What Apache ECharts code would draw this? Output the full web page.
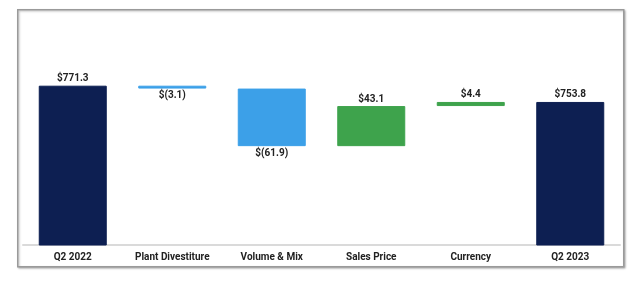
<!DOCTYPE html>
<html>
<head>
<meta charset="utf-8">
<script src="https://cdn.jsdelivr.net/npm/echarts@6/dist/echarts.min.js"></script>
<style>html,body{margin:0;padding:0;background:#fff;}#c{width:640px;height:281px;}</style>
</head>
<body>
<div id="c"></div>
<script>
// Data
var categories = ['Q2 2022', 'Plant Divestiture', 'Volume & Mix', 'Sales Price', 'Currency', 'Q2 2023'];
var changes = [771.3, -3.1, -61.9, 43.1, 4.4, 753.8];
var isTotal = [true, false, false, false, false, true];
var yTicks = [600, 800];

var NAVY = '#0d1f52', BLUE = '#3ca0e8', GREEN = '#3ea34c';

var baseData = [], barData = [];
var running = 0;
for (var i = 0; i < changes.length; i++) {
  var v = changes[i];
  if (isTotal[i]) {
    baseData.push(0);
    barData.push({value: v, itemStyle: {color: NAVY, borderColor: NAVY}, label: {position: 'top'}});
    running = v;
  } else {
    var lo = v < 0 ? running + v : running;
    var col = v < 0 ? BLUE : GREEN;
    baseData.push(lo);
    barData.push({value: Math.abs(v), itemStyle: {color: col, borderColor: col},
      label: {position: v < 0 ? 'bottom' : 'top'}});
    running += v;
  }
}
function fmt(v) {
  return v < 0 ? '$(' + Math.abs(v).toFixed(1) + ')' : '$' + v.toFixed(1);
}

var FONT = 'Roboto, "Noto Sans", sans-serif';
var chart = echarts.init(document.getElementById('c'));
chart.setOption({
  animation: false,
  backgroundColor: '#fff',
  graphic: [{
    type: 'rect', left: 17, top: 9, z: -10,
    shape: {width: 606, height: 257},
    style: {fill: '#fff', stroke: '#9a9a9a', lineWidth: 1.5,
      shadowColor: 'rgba(0,0,0,0.25)', shadowBlur: 2, shadowOffsetX: 1, shadowOffsetY: 1}
  }],
  grid: {left: 23, right: 20, top: 59, bottom: 36},
  xAxis: {
    type: 'category', data: categories,
    axisLine: {lineStyle: {color: '#dadada', width: 2}},
    axisTick: {show: false},
    axisLabel: {interval: 0, color: '#222', fontSize: 10, fontWeight: 'bold', fontFamily: FONT, margin: 7}
  },
  yAxis: {
    type: 'value', min: yTicks[0], max: yTicks[1], interval: 200,
    show: false, splitLine: {show: false}
  },
  series: [{
    type: 'bar', stack: 'w', data: baseData, barWidth: 68,
    itemStyle: {color: 'transparent'}, silent: true
  }, {
    type: 'bar', stack: 'w', data: barData, barWidth: 68,
    itemStyle: {borderWidth: 1},
    label: {
      show: true, color: '#222', fontSize: 10, fontWeight: 'bold', fontFamily: FONT, distance: 2,
      formatter: function (p) { return fmt(changes[p.dataIndex]); }
    }
  }]
});
</script>
</body>
</html>
